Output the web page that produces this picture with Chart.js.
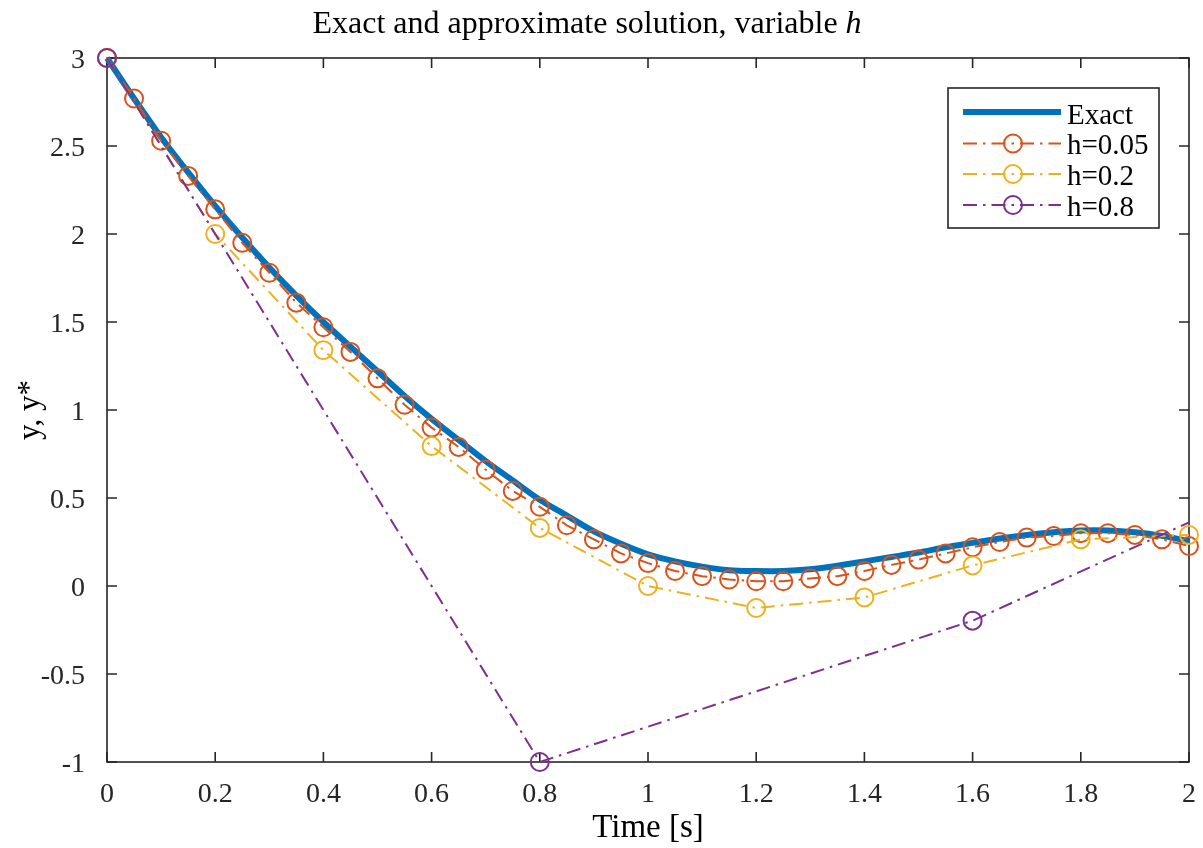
<!DOCTYPE html>
<html><head><meta charset="utf-8">
<script src="https://cdn.jsdelivr.net/npm/chart.js@4.4.1/dist/chart.umd.min.js"></script>
<style>html,body{margin:0;padding:0;background:#fff;overflow:hidden}</style>
</head><body>
<canvas id="c" width="1203" height="848" style="width:1203px;height:848px;display:block"></canvas>
<script>
// ---- data ----
const titleText = 'Exact and approximate solution, variable ';
const titleItalic = 'h';
const xLabel = 'Time [s]';
const yLabel = 'y, y*';
const seriesLabels = ['Exact', 'h=0.05', 'h=0.2', 'h=0.8'];

const exactT = [0,0.05,0.1,0.15,0.2,0.25,0.3,0.35,0.4,0.45,0.5,0.55,0.6,0.65,0.7,0.75,0.8,0.85,0.9,0.95,1.0,1.05,1.1,1.15,1.2,1.25,1.3,1.35,1.4,1.45,1.5,1.55,1.6,1.65,1.7,1.75,1.8,1.85,1.9,1.95,2.0];
const exactY = [3.00,2.77,2.55,2.35,2.16,1.98,1.81,1.65,1.50,1.36,1.22,1.08,0.95,0.83,0.71,0.60,0.49,0.40,0.31,0.24,0.18,0.14,0.11,0.09,0.085,0.085,0.095,0.115,0.14,0.165,0.19,0.22,0.245,0.27,0.29,0.305,0.315,0.315,0.305,0.285,0.255];

const h005T = [0,0.05,0.1,0.15,0.2,0.25,0.3,0.35,0.4,0.45,0.5,0.55,0.6,0.65,0.7,0.75,0.8,0.85,0.9,0.95,1.0,1.05,1.1,1.15,1.2,1.25,1.3,1.35,1.4,1.45,1.5,1.55,1.6,1.65,1.7,1.75,1.8,1.85,1.9,1.95,2.0];
const h005Y = [3.00,2.77,2.53,2.33,2.14,1.95,1.78,1.61,1.47,1.33,1.18,1.03,0.90,0.79,0.66,0.54,0.45,0.345,0.265,0.185,0.13,0.085,0.056,0.037,0.027,0.027,0.043,0.056,0.085,0.12,0.15,0.185,0.22,0.25,0.275,0.284,0.30,0.30,0.29,0.265,0.227];

const h02T = [0,0.2,0.4,0.6,0.8,1.0,1.2,1.4,1.6,1.8,2.0];
const h02Y = [3.00,2.00,1.34,0.795,0.33,0.0,-0.125,-0.065,0.117,0.265,0.29];

const h08T = [0,0.8,1.6,2.4];
const h08Y = [3.00,-1.00,-0.197,0.92];

const xTicks = [0,0.2,0.4,0.6,0.8,1,1.2,1.4,1.6,1.8,2];
const yTicks = [-1,-0.5,0,0.5,1,1.5,2,2.5,3];

const colors = ['#0072BD', '#D95319', '#EDB120', '#7E2F8E'];
const dashDot = [14, 6, 2.5, 6];
const SERIF = "'Liberation Serif', 'Times New Roman', serif";

const pts = (t, y) => t.map((v, i) => ({x: v, y: y[i]}));

const framePlugin = {
  id: 'frame',
  beforeDatasetsDraw(chart) {
    const {ctx, chartArea: a, scales: {x, y}} = chart;
    ctx.save();
    ctx.strokeStyle = '#262626';
    ctx.lineWidth = 1.6;
    ctx.strokeRect(a.left, a.top, a.right - a.left, a.bottom - a.top);
    const L = 10;
    ctx.beginPath();
    xTicks.forEach(v => {
      const p = x.getPixelForValue(v);
      ctx.moveTo(p, a.bottom); ctx.lineTo(p, a.bottom - L);
      ctx.moveTo(p, a.top); ctx.lineTo(p, a.top + L);
    });
    yTicks.forEach(v => {
      const p = y.getPixelForValue(v);
      ctx.moveTo(a.left, p); ctx.lineTo(a.left + L, p);
      ctx.moveTo(a.right, p); ctx.lineTo(a.right - L, p);
    });
    ctx.stroke();
    ctx.restore();
  },
  afterDraw(chart) {
    const {ctx} = chart;
    // title with italic variable
    ctx.save();
    ctx.fillStyle = '#000';
    ctx.textBaseline = 'alphabetic';
    const fN = '32px ' + SERIF, fI = 'italic 32px ' + SERIF;
    ctx.font = fN; const w1 = ctx.measureText(titleText).width;
    ctx.font = fI; const w2 = ctx.measureText(titleItalic).width;
    const cx = 587, start = cx - (w1 + w2) / 2;
    ctx.font = fN; ctx.textAlign = 'left'; ctx.fillText(titleText, start, 33);
    ctx.font = fI; ctx.fillText(titleItalic, start + w1, 33);
    ctx.restore();

    // legend
    const bx = 948, by = 88, bw = 211, bh = 140;
    ctx.save();
    ctx.fillStyle = '#fff';
    ctx.fillRect(bx, by, bw, bh);
    ctx.strokeStyle = '#262626';
    ctx.lineWidth = 1.6;
    ctx.strokeRect(bx, by, bw, bh);
    const rows = [112, 143.5, 174, 205];
    const baselines = [124, 154, 184.5, 215.5];
    chart.data.datasets.forEach((ds, i) => {
      const yy = rows[i];
      ctx.strokeStyle = ds.borderColor;
      ctx.lineWidth = i === 0 ? 6 : 2;
      ctx.setLineDash(i === 0 ? [] : dashDot);
      ctx.beginPath();
      ctx.moveTo(bx + 15, yy); ctx.lineTo(bx + 113, yy);
      ctx.stroke();
      ctx.setLineDash([]);
      if (i > 0) {
        ctx.lineWidth = 2;
        ctx.beginPath();
        ctx.arc(bx + 65, yy, 9, 0, Math.PI * 2);
        ctx.stroke();
      }
      ctx.fillStyle = '#000';
      ctx.font = '29px ' + SERIF;
      ctx.textAlign = 'left';
      ctx.textBaseline = 'alphabetic';
      ctx.fillText(ds.label, bx + 119, baselines[i]);
    });
    ctx.restore();
  }
};

const chart = new Chart(document.getElementById('c'), {
  type: 'line',
  data: {
    datasets: [
      {label: seriesLabels[0], data: pts(exactT, exactY), borderColor: colors[0], borderWidth: 6,
       pointRadius: 0, tension: 0.3, order: 4, clip: 6},
      {label: seriesLabels[1], data: pts(h005T, h005Y), borderColor: colors[1], borderWidth: 2,
       borderDash: dashDot, pointRadius: 9, pointBorderWidth: 2, pointBackgroundColor: 'rgba(0,0,0,0)',
       pointBorderColor: colors[1], tension: 0, order: 3, clip: 12},
      {label: seriesLabels[2], data: pts(h02T, h02Y), borderColor: colors[2], borderWidth: 2,
       borderDash: dashDot, pointRadius: 9, pointBorderWidth: 2, pointBackgroundColor: 'rgba(0,0,0,0)',
       pointBorderColor: colors[2], tension: 0, order: 2, clip: 12},
      {label: seriesLabels[3], data: pts(h08T, h08Y), borderColor: colors[3], borderWidth: 2,
       borderDash: dashDot, pointRadius: 9, pointBorderWidth: 2, pointBackgroundColor: 'rgba(0,0,0,0)',
       pointBorderColor: colors[3], tension: 0, order: 1, clip: {left: 12, top: 12, right: 0, bottom: 12}}
    ]
  },
  options: {
    responsive: false,
    animation: false,
    events: [],
    layout: {padding: {left: 0, right: 14, top: 58, bottom: 0}},
    plugins: {legend: {display: false}, title: {display: false}, tooltip: {enabled: false}},
    scales: {
      x: {
        type: 'linear', min: 0, max: 2,
        afterBuildTicks: s => { s.ticks = xTicks.map(v => ({value: v})); },
        afterFit: s => { s.height = 86; s.paddingLeft = 0; s.paddingRight = 0; },
        grid: {display: false}, border: {display: false},
        ticks: {color: '#262626', font: {family: SERIF, size: 28}, padding: 8, maxRotation: 0,
                callback: v => String(Number(v.toFixed(1)))},
        title: {display: true, text: xLabel, color: '#000', font: {family: SERIF, size: 33}, padding: {top: 0, bottom: 0}}
      },
      y: {
        type: 'linear', min: -1, max: 3,
        afterBuildTicks: s => { s.ticks = yTicks.map(v => ({value: v})); },
        afterFit: s => { s.width = 107; s.paddingTop = 0; s.paddingBottom = 0; },
        grid: {display: false}, border: {display: false},
        ticks: {color: '#262626', font: {family: SERIF, size: 28}, padding: 14, labelOffset: 3,
                callback: v => String(Number(v.toFixed(1)))},
        title: {display: true, text: yLabel, color: '#000', font: {family: SERIF, size: 31}, padding: {top: 12, bottom: 0}}
      }
    }
  },
  plugins: [framePlugin]
});
</script>
</body></html>
